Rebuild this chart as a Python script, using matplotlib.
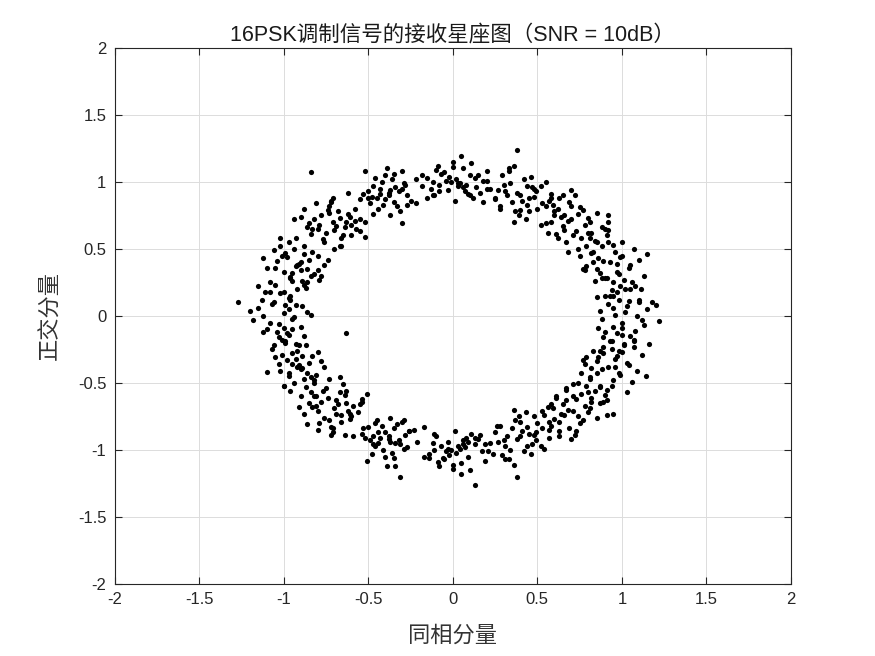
import matplotlib.pyplot as plt
import numpy as np

# received symbols, one pair of lists per constellation point
i0 = [1.02,0.95,1.10,0.88,1.05,0.97,1.15,0.92,1.00,1.08,0.85,0.99,1.12,0.94,1.03,0.90,1.18,0.96,1.06,0.87,1.01,1.13,0.93,1.09,0.98,1.22,0.91,1.04,0.86,1.11,1.00,0.95,1.07,1.20,0.89]
q0 = [0.03,-0.08,0.12,-0.02,-0.15,0.18,0.05,0.09,-0.05,-0.11,0.14,0.22,-0.03,-0.19,0.07,-0.12,0.10,0.01,0.25,0.04,-0.22,-0.07,0.15,0.00,-0.26,-0.04,0.28,0.11,-0.09,0.20,-0.14,0.06,-0.18,0.08,-0.23]
i1 = [0.93,0.85,1.00,0.90,0.97,0.82,1.05,0.88,0.95,1.10,0.79,0.92,1.02,0.86,0.98,0.91,1.13,0.84,0.96,1.04,0.89,0.94,0.81,1.07,0.99,0.87,0.92,1.15,0.83,1.01,0.95,0.90,0.78,1.08,0.97]
q1 = [0.40,0.35,0.45,0.28,0.33,0.47,0.38,0.52,0.25,0.42,0.37,0.55,0.20,0.43,0.31,0.60,0.30,0.26,0.48,0.36,0.41,0.19,0.58,0.50,0.44,0.32,0.64,0.46,0.40,0.27,0.53,0.15,0.34,0.22,0.39]
i2 = [0.70,0.62,0.78,0.66,0.74,0.58,0.82,0.69,0.76,0.64,0.88,0.72,0.60,0.80,0.67,0.75,0.55,0.85,0.71,0.63,0.79,0.68,0.92,0.73,0.59,0.77,0.65,0.84,0.70,0.61,0.81,0.74,0.57,0.90,0.66]
q2 = [0.72,0.80,0.68,0.64,0.76,0.70,0.62,0.85,0.58,0.74,0.66,0.90,0.78,0.73,0.55,0.81,0.69,0.77,0.60,0.88,0.52,0.71,0.75,0.63,0.83,0.79,0.67,0.56,0.94,0.61,0.70,0.50,0.86,0.65,0.75]
i3 = [0.38,0.30,0.45,0.35,0.42,0.27,0.50,0.33,0.40,0.47,0.25,0.37,0.55,0.31,0.44,0.36,0.22,0.48,0.39,0.52,0.29,0.41,0.34,0.58,0.43,0.28,0.46,0.38,0.32,0.53,0.40,0.20,0.49,0.36,0.44]
q3 = [0.92,0.98,0.88,0.85,1.02,0.94,0.80,1.08,0.90,0.96,0.87,0.78,1.00,0.93,0.83,1.12,0.95,0.89,0.75,0.97,1.05,0.86,0.99,0.91,0.72,0.82,1.04,1.24,0.90,0.84,0.79,1.01,0.93,0.70,0.97]
i4 = [0.02,-0.08,0.10,-0.03,0.06,-0.12,0.14,0.00,-0.05,0.09,-0.15,0.04,0.18,-0.10,0.07,-0.02,0.12,-0.07,0.03,0.20,-0.13,0.05,-0.01,0.16,-0.09,0.08,0.01,-0.18,0.11,-0.04,0.06,0.13,-0.11,0.00,0.03]
q4 = [1.02,0.98,1.05,0.94,1.10,1.00,0.96,1.15,1.07,0.91,1.03,0.99,1.01,1.09,0.93,1.04,0.88,1.06,0.97,1.08,0.95,1.19,1.00,0.92,1.12,0.98,0.86,1.05,1.14,1.01,0.96,1.03,0.90,1.11,0.99]
i5 = [-0.38,-0.45,-0.30,-0.42,-0.35,-0.50,-0.27,-0.40,-0.33,-0.47,-0.25,-0.37,-0.52,-0.31,-0.43,-0.36,-0.55,-0.29,-0.41,-0.34,-0.48,-0.39,-0.22,-0.44,-0.32,-0.46,-0.37,-0.28,-0.53,-0.40,-0.35,-0.43,-0.30,-0.49,-0.38]
q5 = [0.92,0.88,0.95,1.00,0.85,0.93,0.90,1.05,0.82,0.97,0.86,0.94,1.08,0.78,0.91,1.02,0.87,0.99,0.83,0.96,0.89,1.10,0.84,0.80,0.93,1.03,0.75,0.98,0.91,0.87,1.06,0.95,0.69,0.84,0.90]
i6 = [-0.71,-0.78,-0.64,-0.75,-0.68,-0.82,-0.60,-0.73,-0.66,-0.85,-0.62,-0.70,-0.88,-0.67,-0.76,-0.58,-0.80,-0.72,-0.65,-0.90,-0.69,-0.77,-0.55,-0.74,-0.63,-0.84,-0.71,-0.79,-0.61,-0.86,-0.67,-0.73,-0.52,-0.81,-0.84]
q6 = [0.70,0.75,0.66,0.62,0.78,0.72,0.68,0.82,0.58,0.69,0.76,0.64,0.80,0.73,0.55,0.71,0.65,0.86,0.60,0.74,0.67,0.57,0.63,0.79,0.70,0.61,0.88,0.68,0.74,0.66,0.52,0.77,0.59,0.84,1.07]
i7 = [-0.92,-1.00,-0.85,-0.96,-0.88,-1.05,-0.82,-0.94,-0.90,-1.08,-0.86,-0.98,-0.79,-1.02,-0.93,-0.87,-1.12,-0.95,-0.83,-1.00,-0.91,-0.97,-0.80,-1.04,-0.89,-0.99,-0.84,-1.10,-0.93,-0.88,-1.01,-0.76,-0.96,-1.06,-0.90]
q7 = [0.38,0.33,0.42,0.28,0.46,0.36,0.31,0.50,0.40,0.25,0.35,0.44,0.27,0.52,0.37,0.21,0.43,0.32,0.48,0.18,0.39,0.55,0.34,0.41,0.26,0.47,0.30,0.36,0.58,0.23,0.45,0.38,0.29,0.49,0.34]
i8 = [-1.00,-1.08,-0.93,-1.04,-0.97,-1.12,-0.90,-1.02,-0.95,-1.15,-0.88,-1.06,-0.99,-1.20,-0.92,-1.03,-0.86,-1.10,-0.96,-1.27,-1.01,-0.94,-1.13,-0.89,-1.05,-0.98,-1.18,-0.91,-1.07,-0.84,-1.00,-1.11,-0.95,-1.03,-0.97]
q8 = [0.02,-0.05,0.08,-0.12,0.13,0.00,-0.08,0.17,-0.02,0.06,-0.15,0.10,-0.20,0.04,0.20,-0.06,0.03,-0.10,0.15,0.10,-0.18,-0.01,0.12,0.07,0.23,-0.13,-0.03,-0.22,0.09,0.01,-0.09,0.18,0.26,-0.16,0.05]
i9 = [-0.92,-0.98,-0.86,-0.95,-0.88,-1.03,-0.83,-0.94,-0.90,-1.07,-0.85,-0.97,-0.80,-1.00,-0.91,-0.87,-1.10,-0.93,-0.82,-0.99,-0.89,-0.96,-0.78,-1.02,-0.92,-0.84,-1.05,-0.90,-0.95,-0.81,-1.01,-0.87,-0.93,-0.76,-0.97]
q9 = [-0.38,-0.33,-0.43,-0.28,-0.47,-0.36,-0.30,-0.50,-0.40,-0.25,-0.35,-0.45,-0.27,-0.52,-0.37,-0.22,-0.42,-0.32,-0.48,-0.19,-0.39,-0.56,-0.34,-0.41,-0.26,-0.46,-0.31,-0.60,-0.36,-0.44,-0.29,-0.53,-0.21,-0.38,-0.43]
i10 = [-0.70,-0.76,-0.63,-0.74,-0.66,-0.80,-0.59,-0.72,-0.67,-0.83,-0.61,-0.69,-0.86,-0.66,-0.75,-0.56,-0.78,-0.71,-0.64,-0.88,-0.68,-0.77,-0.54,-0.79,-0.62,-0.82,-0.72,-0.81,-0.60,-0.85,-0.65,-0.73,-0.51,-0.80,-0.69]
q10 = [-0.69,-0.76,-0.65,-0.61,-0.79,-0.71,-0.67,-0.83,-0.57,-0.68,-0.77,-0.63,-0.81,-0.74,-0.54,-0.72,-0.64,-0.87,-0.59,-0.73,-0.66,-0.56,-0.62,-0.80,-0.71,-0.60,-0.89,-0.67,-0.75,-0.65,-0.51,-0.78,-0.58,-0.85,-0.73]
i11 = [-0.38,-0.44,-0.31,-0.41,-0.35,-0.49,-0.28,-0.40,-0.33,-0.46,-0.26,-0.37,-0.51,-0.30,-0.43,-0.36,-0.54,-0.29,-0.42,-0.34,-0.47,-0.39,-0.23,-0.45,-0.32,-0.48,-0.37,-0.27,-0.52,-0.40,-0.35,-0.44,-0.31,-0.50,-0.38]
q11 = [-0.92,-0.87,-0.96,-1.00,-0.84,-0.93,-0.89,-1.05,-0.81,-0.97,-0.86,-0.94,-1.08,-0.79,-0.91,-1.02,-0.88,-0.99,-0.82,-0.95,-0.90,-1.12,-0.85,-0.78,-0.93,-1.03,-0.76,-0.98,-0.91,-0.87,-1.06,-0.95,-1.20,-0.83,-0.90]
i12 = [0.02,-0.07,0.09,-0.03,0.05,-0.11,0.13,0.00,-0.05,0.08,-0.14,0.04,0.17,-0.09,0.06,-0.02,0.11,-0.06,0.03,0.19,-0.12,0.05,-0.01,0.15,-0.08,0.07,0.01,-0.17,0.10,-0.04,0.13,0.06,-0.10,0.00,-0.03]
q12 = [-1.02,-0.97,-1.05,-0.94,-1.10,-1.00,-0.96,-1.14,-1.07,-0.91,-1.03,-0.99,-1.01,-1.09,-0.93,-1.04,-0.88,-1.06,-0.97,-1.08,-0.95,-1.18,-1.00,-0.92,-1.12,-0.98,-0.86,-1.05,-1.15,-1.01,-1.26,-0.96,-0.90,-1.11,-0.99]
i13 = [0.38,0.31,0.45,0.35,0.42,0.27,0.50,0.33,0.40,0.47,0.25,0.37,0.54,0.30,0.44,0.36,0.22,0.48,0.39,0.52,0.29,0.41,0.34,0.57,0.43,0.28,0.46,0.38,0.32,0.53,0.40,0.21,0.49,0.36,0.44]
q13 = [-0.92,-0.97,-0.88,-0.84,-1.01,-0.94,-0.80,-1.07,-0.90,-0.96,-0.87,-0.78,-0.99,-0.93,-0.83,-1.11,-0.95,-0.89,-0.75,-0.97,-1.04,-0.86,-1.00,-0.91,-0.72,-0.82,-1.03,-1.20,-0.90,-0.84,-0.79,-1.01,-0.93,-0.70,-0.97]
i14 = [0.71,0.63,0.78,0.67,0.74,0.59,0.82,0.69,0.76,0.64,0.87,0.72,0.60,0.80,0.67,0.75,0.56,0.85,0.71,0.63,0.79,0.68,0.91,0.73,0.58,0.77,0.65,0.84,0.70,0.61,0.81,0.74,0.57,0.89,0.66]
q14 = [-0.71,-0.79,-0.67,-0.63,-0.75,-0.69,-0.61,-0.84,-0.58,-0.73,-0.65,-0.89,-0.77,-0.72,-0.55,-0.80,-0.68,-0.76,-0.60,-0.86,-0.52,-0.70,-0.74,-0.62,-0.82,-0.78,-0.66,-0.56,-0.92,-0.60,-0.69,-0.50,-0.85,-0.64,-0.74]
i15 = [0.92,0.85,0.99,0.89,0.96,0.81,1.04,0.87,0.94,1.09,0.78,0.91,1.01,0.85,0.97,0.90,1.12,0.83,0.95,1.03,0.88,0.93,0.80,1.06,0.98,0.86,0.91,1.14,0.82,1.00,0.94,0.89,0.77,1.07,0.96]
q15 = [-0.38,-0.34,-0.44,-0.28,-0.32,-0.47,-0.37,-0.52,-0.25,-0.41,-0.36,-0.55,-0.21,-0.43,-0.30,-0.59,-0.29,-0.26,-0.48,-0.35,-0.40,-0.19,-0.57,-0.49,-0.43,-0.31,-0.63,-0.45,-0.39,-0.27,-0.52,-0.16,-0.33,-0.23,-0.38]

# points lying between neighbouring clusters, one pair of lists per quadrant
ia = [0.20,0.15,0.25,0.55,0.60,0.48,0.65,0.52,0.85,0.80,0.75,1.05,0.95,1.00,0.28,0.18,0.62,0.58,0.88,0.92,0.70,0.45,0.33,0.68,1.10,0.98,0.10,0.56,0.83,0.77]
qa = [0.95,1.05,0.88,0.82,0.75,0.95,0.90,0.68,0.55,0.62,0.45,0.20,0.15,0.55,0.80,0.85,0.58,0.88,0.28,0.70,0.82,0.78,1.10,0.48,0.10,0.12,0.90,0.62,0.48,0.35]
ib = [-0.18,-0.22,-0.12,-0.58,-0.55,-0.62,-0.50,-0.66,-0.88,-0.83,-0.74,-1.08,-0.96,-1.02,-0.27,-0.15,-0.60,-0.52,-0.86,-0.94,-0.72,-0.47,-0.30,-0.70,-1.15,-0.99,-0.08,-0.57,-0.80,-0.78]
qb = [0.97,1.02,0.90,0.80,0.72,0.92,0.88,0.52,0.52,0.65,0.42,0.18,0.12,0.58,0.83,0.88,0.60,0.70,0.25,0.72,0.85,0.76,1.08,0.50,0.22,0.08,0.93,0.65,0.45,0.30]
ic = [-0.21,-0.14,-0.26,-0.53,-0.61,-0.47,-0.64,-0.55,-0.84,-0.81,-0.73,-1.06,-0.97,-1.00,-0.29,-0.17,-0.63,-0.59,-0.89,-0.91,-0.71,-0.46,-0.34,-0.67,-1.12,-0.95,-0.11,-0.54,-0.82,-0.63]
qc = [-0.94,-1.06,-0.86,-0.84,-0.73,-0.96,-0.89,-0.66,-0.57,-0.60,-0.47,-0.22,-0.14,-0.52,-0.78,-0.83,-0.56,-0.90,-0.30,-0.68,-0.84,-0.80,-1.12,-0.46,-0.12,-0.10,-0.88,-0.64,-0.50,-0.13]
id_ = [0.19,0.24,0.13,0.57,0.54,0.63,0.49,0.67,0.87,0.82,0.76,1.07,0.97,1.03,0.26,0.16,0.61,0.53,0.87,0.95,0.73,0.48,0.31,0.71,1.16,1.00,0.09,0.58,0.81,0.79]
qd = [-0.96,-1.03,-0.91,-0.79,-0.74,-0.90,-0.87,-0.54,-0.53,-0.64,-0.43,-0.19,-0.13,-0.57,-0.82,-0.89,-0.61,-0.71,-0.26,-0.73,-0.86,-0.75,-1.07,-0.51,-0.21,-0.09,-0.94,-0.66,-0.46,-0.31]

title = '16PSK调制信号的接收星座图（SNR = 10dB）'
xlab = '同相分量'
ylab = '正交分量'
ticks = [-2, -1.5, -1, -0.5, 0, 0.5, 1, 1.5, 2]
tick_txt = ['-2', '-1.5', '-1', '-0.5', '0', '0.5', '1', '1.5', '2']

plt.rcParams['font.family'] = ['Liberation Sans', 'Noto Sans CJK SC']

I = np.concatenate([i0,i1,i2,i3,i4,i5,i6,i7,i8,i9,i10,i11,i12,i13,i14,i15,ia,ib,ic,id_])
Q = np.concatenate([q0,q1,q2,q3,q4,q5,q6,q7,q8,q9,q10,q11,q12,q13,q14,q15,qa,qb,qc,qd])

fig = plt.figure(figsize=(8.75, 6.56), dpi=100)
ax = fig.add_axes([0.131, 0.110, 0.773, 0.817])
ax.scatter(I, Q, s=14, c='k', linewidths=0)

ax.set_xlim(-2, 2)
ax.set_ylim(-2, 2)
ax.set_xticks(ticks)
ax.set_yticks(ticks)
ax.set_xticklabels(tick_txt)
ax.set_yticklabels(tick_txt)
ax.grid(True, color='#dcdcdc', lw=0.7)
ax.set_axisbelow(True)
ax.tick_params(direction='in', length=5, labelsize=12, colors='#262626', pad=6,
               top=True, right=True)
for s in ax.spines.values():
    s.set_color('#262626')
    s.set_linewidth(0.8)

ax.set_title(title, fontsize=15.5, color='#1a1a1a', pad=5)
ax.set_xlabel(xlab, fontsize=16, color='#333333', family='Noto Sans CJK SC', labelpad=12)
ax.set_ylabel(ylab, fontsize=16, color='#333333', family='Noto Sans CJK SC', labelpad=12)

fig.savefig('out.png', dpi=100)
